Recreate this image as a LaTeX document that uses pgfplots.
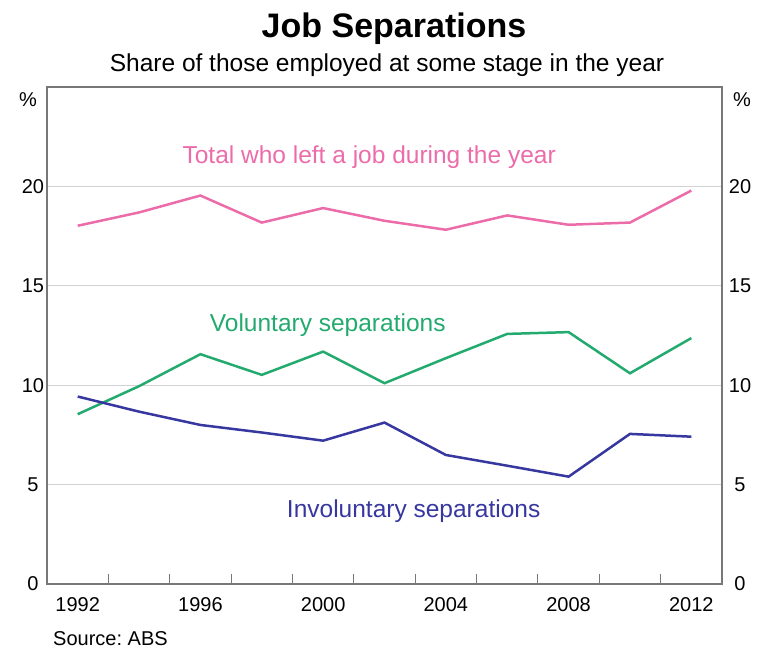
\documentclass[border=0pt]{standalone}
\usepackage{fontspec}
\setmainfont{Liberation Sans}
\usepackage{pgfplots}
\pgfplotsset{compat=1.18}
\frenchspacing

\definecolor{totpink}{RGB}{236,108,170}
\definecolor{volgreen}{RGB}{35,170,110}
\definecolor{invblue}{RGB}{55,55,160}
\definecolor{axisgray}{RGB}{120,120,120}
\definecolor{gridgray}{RGB}{210,210,210}

\newcommand{\tickfont}{\fontsize{20}{20}\selectfont}
\newcommand{\labfont}{\fontsize{24.5}{24.5}\selectfont}

\begin{document}
\begin{tikzpicture}[x=1pt,y=1pt]
\useasboundingbox (0,0) rectangle (759,653);

% titles
\node[anchor=base] at (394,615) {\fontsize{34}{34}\selectfont\bfseries Job Separations};
\node[anchor=base] at (387,581) {\fontsize{24.5}{24.5}\selectfont Share of those employed at some stage in the year};
\node[anchor=base west,inner sep=0pt] at (53,8) {\tickfont Source: ABS};
\node at (28,553) {\tickfont \%};
\node at (742,553) {\tickfont \%};

\begin{axis}[
    at={(47pt,69pt)}, anchor=south west,
    scale only axis, width=675pt, height=497pt,
    xmin=1991, xmax=2013, ymin=0, ymax=25,
    axis line style={axisgray, line width=1.3pt},
    xtick={1993,1995,...,2011}, xticklabels={},
    xtick pos=bottom, tick align=inside,
    x tick style={axisgray, line width=1.1pt},
    major tick length=10pt,
    extra x ticks={1992,1996,2000,2004,2008,2012},
    extra x tick labels={1992,1996,2000,2004,2008,2012},
    extra x tick style={major tick length=0pt,
        xticklabel style={anchor=center, yshift=-21pt, font=\tickfont}},
    ytick={0,5,10,15,20},
    y tick style={draw=none},
    ymajorgrids,
    grid style={gridgray, line width=1.4pt},
    /pgf/number format/assume math mode=true,
    yticklabel style={anchor=center, xshift=-14pt, font=\tickfont},
]
\addplot[totpink, line width=2.5pt] coordinates {
    (1992,18.02) (1994,18.69) (1996,19.54) (1998,18.18) (2000,18.91)
    (2002,18.27) (2004,17.82) (2006,18.54) (2008,18.07) (2010,18.18)
    (2012,19.79)
};
\addplot[volgreen, line width=2.5pt] coordinates {
    (1992,8.54) (1994,9.95) (1996,11.56) (1998,10.52) (2000,11.69)
    (2002,10.10) (2004,11.36) (2006,12.58) (2008,12.67) (2010,10.60)
    (2012,12.37)
};
\addplot[invblue, line width=2.5pt] coordinates {
    (1992,9.43) (1994,8.67) (1996,8.00) (1998,7.62) (2000,7.21)
    (2002,8.12) (2004,6.49) (2006,5.95) (2008,5.40) (2010,7.55)
    (2012,7.41)
};
\node[text=totpink, font=\labfont] at (axis cs:2001.5,21.45) {Total who left a job during the year};
\node[text=volgreen, font=\labfont] at (axis cs:2000.15,13.0) {Voluntary separations};
\node[text=invblue, font=\labfont] at (axis cs:2002.95,3.65) {Involuntary separations};
\end{axis}

\begin{axis}[
    at={(47pt,69pt)}, anchor=south west,
    scale only axis, width=675pt, height=497pt,
    xmin=1991, xmax=2013, ymin=0, ymax=25,
    hide x axis, axis y line*=right,
    axis line style={axisgray, line width=1.3pt, -},
    ytick={0,5,10,15,20},
    y tick style={draw=none},
    /pgf/number format/assume math mode=true,
    yticklabel style={anchor=center, xshift=18pt, font=\tickfont},
]
\end{axis}
\end{tikzpicture}
\end{document}
